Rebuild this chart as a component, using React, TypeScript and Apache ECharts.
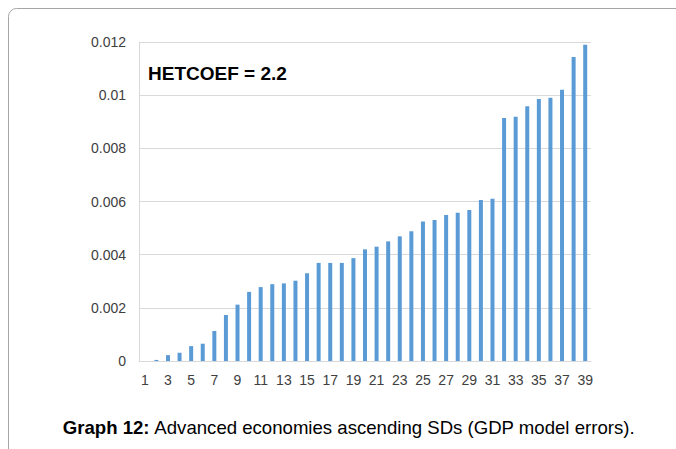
import React, { useEffect, useRef } from "react";
import * as echarts from "echarts";

const categories: string[] = Array.from({ length: 39 }, (_, i) => String(i + 1));
const sdValues: number[] = [
  0.0, 0.00004, 0.00022, 0.00031, 0.00056, 0.00065, 0.00113, 0.00173, 0.00212, 0.0026,
  0.00278, 0.00289, 0.00292, 0.00302, 0.0033, 0.00369, 0.00369, 0.00369, 0.00387, 0.0042,
  0.0043, 0.0045, 0.00469, 0.00488, 0.00525, 0.0053, 0.00549, 0.00558, 0.00568, 0.00606,
  0.0061, 0.00914, 0.00919, 0.00958, 0.00986, 0.0099, 0.0102, 0.01144, 0.0119,
];
const annotation = "HETCOEF = 2.2";
const captionBold = "Graph 12:";
const captionText = " Advanced economies ascending SDs (GDP model errors).";

export default function App() {
  const ref = useRef<HTMLDivElement>(null);
  useEffect(() => {
    if (!ref.current) return;
    const chart = echarts.init(ref.current, undefined, { renderer: "svg" });
    const font = "Liberation Sans, Arial, sans-serif";
    chart.setOption({
      animation: false,
      backgroundColor: "#ffffff",
      grid: { left: 139, right: 85, top: 42, bottom: 88, containLabel: false },
      xAxis: {
        type: "category",
        data: categories,
        axisLine: { show: true, lineStyle: { color: "#D9D9D9", width: 1 } },
        axisTick: { show: false },
        axisLabel: {
          interval: 1,
          color: "#404040",
          fontSize: 14,
          fontFamily: font,
          margin: 12,
        },
      },
      yAxis: {
        type: "value",
        min: 0,
        max: 0.012,
        interval: 0.002,
        axisLine: { show: true, lineStyle: { color: "#D9D9D9", width: 1 } },
        axisTick: { show: false },
        splitLine: { show: true, lineStyle: { color: "#D9D9D9", width: 1 } },
        axisLabel: {
          color: "#404040",
          fontSize: 14,
          fontFamily: font,
          margin: 13,
        },
      },
      series: [
        {
          type: "bar",
          data: sdValues,
          barWidth: 4,
          itemStyle: { color: "#5B9BD5" },
        },
      ],
      graphic: [
        {
          type: "rect",
          shape: { x: 8.5, y: 8.5, width: 740, height: 520, r: 8 },
          style: { fill: "none", stroke: "#A6A6A6", lineWidth: 1 },
          silent: true,
        },
        {
          type: "text",
          left: 148,
          top: 64,
          style: {
            text: annotation,
            font: `bold 19px ${font}`,
            fill: "#000000",
          },
        },
        {
          type: "text",
          x: 349,
          y: 427,
          style: {
            text: `{b|${captionBold}}{n|${captionText}}`,
            align: "center",
            verticalAlign: "middle",
            rich: {
              b: { fontFamily: font, fontSize: 18.6, fontWeight: "bold", fill: "#000" },
              n: { fontFamily: font, fontSize: 18.6, fill: "#000" },
            },
          },
        },
      ],
    });
    return () => chart.dispose();
  }, []);
  return (
    <div
      ref={ref}
      style={{ position: "fixed", left: 0, top: 0, width: 676, height: 449 }}
    />
  );
}
